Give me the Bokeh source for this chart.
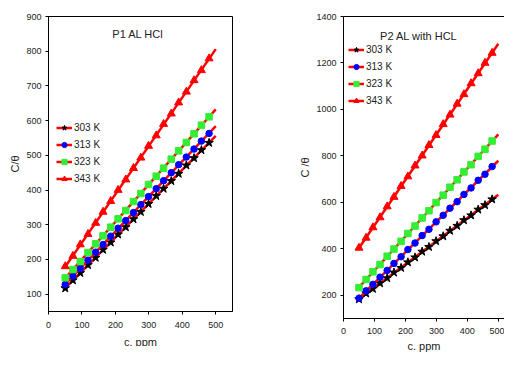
import numpy as np
from bokeh.plotting import figure
from bokeh.layouts import row
from bokeh.models import Range1d, FixedTicker, Legend, LegendItem, Label, LinearAxis
from bokeh.embed import file_html
from bokeh.resources import INLINE

# ---------------- data ----------------
conc = [50, 73, 95, 118, 141, 163, 186, 208, 231, 254, 276, 299, 322, 344, 367, 389, 412, 435, 457, 480]
fit_x = [50, 500]
temps = ["303 K", "313 K", "323 K", "343 K"]

# P1 AL HCl  (C/theta)
p1_303 = [117, 140, 161, 184, 205, 228, 249, 272, 293, 316, 337, 360, 383, 404, 426, 447, 471, 492, 515, 536]
p1_313 = [128, 152, 174, 198, 221, 243, 267, 290, 312, 335, 358, 381, 404, 427, 450, 473, 495, 518, 541, 563]
p1_323 = [147, 171, 194, 220, 245, 268, 293, 317, 341, 367, 390, 416, 440, 463, 489, 513, 537, 562, 587, 611]
p1_343 = [180, 210, 243, 273, 305, 337, 368, 400, 430, 463, 493, 527, 557, 590, 620, 652, 683, 716, 745, 779]

# P2 AL with HCL (C/theta)
p2_303 = [183, 208, 228, 252, 274, 298, 318, 342, 363, 388, 408, 433, 454, 478, 499, 523, 544, 569, 588, 613]
p2_313 = [187, 219, 247, 278, 307, 337, 366, 397, 425, 457, 484, 516, 544, 575, 603, 634, 662, 695, 721, 754]
p2_323 = [233, 268, 301, 332, 368, 399, 432, 466, 498, 533, 564, 599, 631, 665, 697, 731, 762, 798, 829, 864]
p2_343 = [404, 447, 492, 535, 582, 623, 670, 711, 758, 801, 846, 889, 936, 977, 1024, 1065, 1112, 1155, 1200, 1243]

x_ticks = [0, 100, 200, 300, 400, 500]
p1_y_ticks = [100, 200, 300, 400, 500, 600, 700, 800, 900]
p2_y_ticks = [200, 400, 600, 800, 1000, 1200, 1400]

# ---------------- style ----------------
FONT = "Liberation Sans"
markers = ["star", "circle", "square", "triangle"]
mcolors = ["#000000", "#0000ff", "#33ee33", "#ff0000"]
msizes = [9, 6.5, 6.5, 8]
LINE_RED = "#ff0000"


def style_axis(ax, ticks):
    ax.ticker = FixedTicker(ticks=ticks)
    ax.axis_line_color = "black"
    ax.axis_line_width = 1
    ax.major_tick_line_color = "black"
    ax.major_tick_out = 3
    ax.major_tick_in = 0
    ax.minor_tick_line_color = None
    ax.major_label_text_font = FONT
    ax.major_label_text_font_size = "9px"
    ax.major_label_text_color = "#222222"
    ax.axis_label_text_font = FONT
    ax.axis_label_text_font_size = "11px"
    ax.axis_label_text_font_style = "normal"
    ax.axis_label_text_color = "#222222"


def make_panel(series, ylim, xlim, yticks, title, ylabel, fw, fh,
               borders, title_pos, legend_loc, outline, xstand):
    p = figure(frame_width=fw, frame_height=fh, title=None, toolbar_location=None,
               output_backend="svg", x_range=Range1d(*xlim), y_range=Range1d(*ylim),
               min_border_left=borders[0], min_border_right=borders[1],
               min_border_top=borders[2], min_border_bottom=borders[3])
    p.grid.visible = False
    p.background_fill_color = "white"
    p.border_fill_color = "white"

    xax = p.below[0]
    yax = p.left[0]
    style_axis(xax, x_ticks)
    style_axis(yax, yticks)
    xax.axis_label = "c. ppm"
    yax.axis_label = ylabel
    xax.major_label_standoff = xstand[0]
    xax.axis_label_standoff = xstand[1]
    yax.major_label_standoff = 4
    yax.axis_label_standoff = 2

    if outline:
        p.outline_line_color = "black"
        p.outline_line_width = 1
    else:
        p.outline_line_color = None
        top = LinearAxis(ticker=FixedTicker(ticks=[]), major_label_text_font_size="0px",
                         major_tick_line_color=None, minor_tick_line_color=None,
                         axis_line_color="black", major_label_standoff=0,
                         major_tick_out=0, major_tick_in=0)
        p.add_layout(top, "above")

    items = []
    for i, ys in enumerate(series):
        coef = np.polyfit(conc, ys, 1)
        fy = np.polyval(coef, fit_x)
        lr = p.line(fit_x, fy, line_color=LINE_RED, line_width=2.5)
        sr = p.scatter(conc, ys, marker=markers[i], size=msizes[i],
                       fill_color=mcolors[i], line_color=mcolors[i])
        items.append(LegendItem(label=temps[i], renderers=[lr, sr]))

    leg = Legend(items=items, location=legend_loc, padding=0, margin=0,
                 border_line_color=None, background_fill_alpha=0,
                 glyph_width=16, glyph_height=13, label_height=13,
                 label_standoff=2, spacing=4,
                 label_text_font=FONT, label_text_font_size="10px",
                 label_text_color="#222222")
    p.add_layout(leg, "center")

    lab = Label(x=title_pos[0], y=title_pos[1], x_units="screen", y_units="screen",
                text=title, text_font=FONT, text_font_size="11px",
                text_color="#222222", text_align="center", text_baseline="middle")
    p.add_layout(lab)
    return p


p1 = make_panel([p1_303, p1_313, p1_323, p1_343], (50, 900), (0, 550), p1_y_ticks,
                "P1 AL  HCl", "C/θ", 184, 295, (48, 64, 12, 38),
                (91, 278), (8, 126), True, (7, 5))
p2 = make_panel([p2_303, p2_313, p2_323, p2_343], (100, 1400), (0, 520), p2_y_ticks,
                "P2  AL with   HCL", "C /θ", 161, 302, (45, 0, 16, 30),
                (80, 283), (5, 211), False, (6, 3))

layout = row(p1, p2)
open("out.html", "w").write(file_html(layout, INLINE))
